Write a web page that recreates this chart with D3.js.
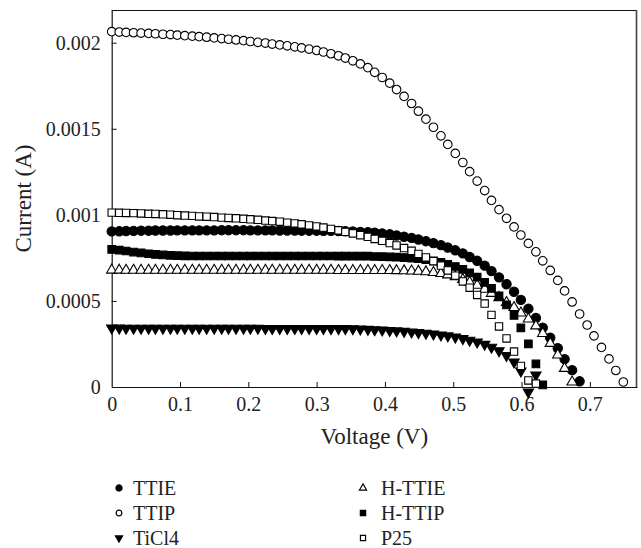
<!DOCTYPE html>
<html>
<head>
<meta charset="utf-8">
<script src="https://cdn.jsdelivr.net/npm/d3@7"></script>
<style>
  body { margin: 0; background: #fff; }
  text { font-family: "Liberation Serif", "DejaVu Serif", serif; fill: #222; }
</style>
</head>
<body>
<script>
// sweep voltages (V), shared by all cells
var voltage = [0.000, 0.011, 0.021, 0.032, 0.043, 0.054, 0.064, 0.075, 0.086, 0.096,
    0.107, 0.118, 0.128, 0.139, 0.150, 0.161, 0.171, 0.182, 0.193, 0.203,
    0.214, 0.225, 0.235, 0.246, 0.257, 0.268, 0.278, 0.289, 0.300, 0.310,
    0.321, 0.332, 0.342, 0.353, 0.364, 0.375, 0.385, 0.396, 0.407, 0.417,
    0.428, 0.439, 0.449, 0.460, 0.471, 0.482, 0.492, 0.503, 0.514, 0.524,
    0.535, 0.546, 0.556, 0.567, 0.578, 0.589, 0.599, 0.610, 0.621, 0.631,
    0.642, 0.653, 0.663, 0.674, 0.685, 0.696, 0.706, 0.717, 0.728, 0.738, 0.749];

// currents (A)
var ttie = [0.000904, 0.000905, 0.000906, 0.000907, 0.000908, 0.000908, 0.000909, 0.000909, 0.000909, 0.000910,
    0.000910, 0.000910, 0.000910, 0.000910, 0.000910, 0.000911, 0.000911, 0.000911, 0.000911, 0.000910,
    0.000910, 0.000910, 0.000910, 0.000909, 0.000909, 0.000909, 0.000908, 0.000908, 0.000908, 0.000907,
    0.000907, 0.000906, 0.000905, 0.000903, 0.000901, 0.000899, 0.000897, 0.000892, 0.000887, 0.000880,
    0.000873, 0.000866, 0.000857, 0.000847, 0.000836, 0.000824, 0.000810, 0.000794, 0.000776, 0.000755,
    0.000733, 0.000705, 0.000673, 0.000637, 0.000597, 0.000553, 0.000506, 0.000455, 0.000401, 0.000344,
    0.000286, 0.000225, 0.000162, 0.000098, 0.000033];

var ttip = [0.002064, 0.002062, 0.002060, 0.002058, 0.002056, 0.002054, 0.002052, 0.002049, 0.002047, 0.002044,
    0.002041, 0.002038, 0.002035, 0.002032, 0.002028, 0.002024, 0.002020, 0.002016, 0.002012, 0.002007,
    0.002002, 0.001998, 0.001992, 0.001987, 0.001982, 0.001976, 0.001970, 0.001963, 0.001955, 0.001946,
    0.001936, 0.001924, 0.001911, 0.001895, 0.001877, 0.001855, 0.001828, 0.001798, 0.001765, 0.001728,
    0.001688, 0.001647, 0.001602, 0.001556, 0.001509, 0.001459, 0.001409, 0.001357, 0.001304, 0.001251,
    0.001196, 0.001141, 0.001084, 0.001030, 0.000980, 0.000930, 0.000883, 0.000834, 0.000785, 0.000733,
    0.000677, 0.000619, 0.000558, 0.000494, 0.000424, 0.000360, 0.000297, 0.000230, 0.000163, 0.000096, 0.000029];

var ticl4 = [0.000343, 0.000342, 0.000341, 0.000341, 0.000341, 0.000341, 0.000341, 0.000341, 0.000341, 0.000341,
    0.000341, 0.000341, 0.000341, 0.000341, 0.000341, 0.000341, 0.000341, 0.000341, 0.000341, 0.000341,
    0.000341, 0.000340, 0.000340, 0.000340, 0.000340, 0.000340, 0.000340, 0.000340, 0.000340, 0.000340,
    0.000339, 0.000339, 0.000339, 0.000338, 0.000337, 0.000335, 0.000333, 0.000331, 0.000328, 0.000326,
    0.000323, 0.000320, 0.000316, 0.000312, 0.000308, 0.000302, 0.000297, 0.000290, 0.000281, 0.000272,
    0.000261, 0.000248, 0.000231, 0.000210, 0.000183, 0.000145, 0.000093, -0.000029, 0.000070];

var httie = [0.000679, 0.000679, 0.000678, 0.000678, 0.000678, 0.000678, 0.000678, 0.000678, 0.000678, 0.000678,
    0.000678, 0.000678, 0.000678, 0.000678, 0.000678, 0.000678, 0.000678, 0.000678, 0.000678, 0.000678,
    0.000678, 0.000678, 0.000678, 0.000678, 0.000678, 0.000678, 0.000678, 0.000678, 0.000678, 0.000678,
    0.000678, 0.000677, 0.000677, 0.000677, 0.000677, 0.000677, 0.000677, 0.000677, 0.000677, 0.000676,
    0.000675, 0.000674, 0.000672, 0.000669, 0.000665, 0.000659, 0.000651, 0.000641, 0.000625, 0.000609,
    0.000591, 0.000568, 0.000544, 0.000519, 0.000491, 0.000462, 0.000430, 0.000395, 0.000355, 0.000311,
    0.000253, 0.000186, 0.000108, 0.000029];

var httip = [0.000799, 0.000795, 0.000790, 0.000784, 0.000779, 0.000774, 0.000770, 0.000767, 0.000765, 0.000763,
    0.000762, 0.000761, 0.000761, 0.000761, 0.000761, 0.000761, 0.000761, 0.000761, 0.000761, 0.000761,
    0.000761, 0.000761, 0.000761, 0.000761, 0.000761, 0.000761, 0.000761, 0.000761, 0.000761, 0.000761,
    0.000761, 0.000760, 0.000760, 0.000760, 0.000760, 0.000760, 0.000758, 0.000757, 0.000756, 0.000754,
    0.000752, 0.000749, 0.000745, 0.000740, 0.000733, 0.000724, 0.000713, 0.000700, 0.000683, 0.000663,
    0.000638, 0.000608, 0.000573, 0.000529, 0.000477, 0.000416, 0.000343, 0.000250, 0.000134, 0.000012];

var p25 = [0.001013, 0.001012, 0.001011, 0.001010, 0.001008, 0.001006, 0.001005, 0.001003, 0.001001, 0.000998,
    0.000996, 0.000994, 0.000991, 0.000989, 0.000987, 0.000984, 0.000982, 0.000980, 0.000977, 0.000974,
    0.000971, 0.000967, 0.000964, 0.000960, 0.000955, 0.000950, 0.000945, 0.000939, 0.000933, 0.000926,
    0.000918, 0.000910, 0.000901, 0.000892, 0.000882, 0.000872, 0.000860, 0.000849, 0.000836, 0.000822,
    0.000807, 0.000791, 0.000773, 0.000753, 0.000731, 0.000705, 0.000677, 0.000647, 0.000613, 0.000577,
    0.000535, 0.000485, 0.000419, 0.000352, 0.000282, 0.000206, 0.000122, 0.000038, 0.000020];

var seriesNames = ["TTIE", "TTIP", "TiCl4", "H-TTIE", "H-TTIP", "P25"];
var seriesValues = [ttie, ttip, ticl4, httie, httip, p25];

var xTicks = [0, 0.1, 0.2, 0.3, 0.4, 0.5, 0.6, 0.7];
var xTickLabels = ["0", "0.1", "0.2", "0.3", "0.4", "0.5", "0.6", "0.7"];
var yTicks = [0, 0.0005, 0.001, 0.0015, 0.002];
var yTickLabels = ["0", "0.0005", "0.001", "0.0015", "0.002"];

var width = 641, height = 548;
var plotL = 111.7, plotR = 637, plotT = 10, plotB = 387;

// marker look per series, same order as seriesNames
var markers = [
    { type: d3.symbolCircle,   size: 68, leg: 30, fill: "#000", rot: 0 },
    { type: d3.symbolCircle,   size: 58, leg: 26, fill: "#fff", rot: 0 },
    { type: d3.symbolTriangle, size: 46, leg: 22, fill: "#000", rot: 180 },
    { type: d3.symbolTriangle, size: 46, leg: 22, fill: "#fff", rot: 0 },
    { type: d3.symbolSquare,   size: 58, leg: 28, fill: "#000", rot: 0 },
    { type: d3.symbolSquare,   size: 54, leg: 26, fill: "#fff", rot: 0 }
];

var x = d3.scaleLinear().domain([0, 0.769]).range([plotL, plotR]);
var y = d3.scaleLinear().domain([0, 0.00219]).range([plotB, plotT]);

var svg = d3.select("body").append("svg")
        .attr("width", width)
        .attr("height", height);

// frame
svg.append("line").attr("x1", plotL).attr("x2", plotR).attr("y1", plotT + 0.5).attr("y2", plotT + 0.5)
    .attr("stroke", "#111").attr("stroke-width", 1.2);
svg.append("line").attr("x1", plotR - 0.5).attr("x2", plotR - 0.5).attr("y1", plotT).attr("y2", plotB)
    .attr("stroke", "#444").attr("stroke-width", 1.6);

var xAxis = d3.axisBottom(x)
    .tickValues(xTicks)
    .tickFormat(function (d, i) { return xTickLabels[i]; })
    .tickSizeInner(-5).tickSizeOuter(0).tickPadding(10);

var yAxis = d3.axisLeft(y)
    .tickValues(yTicks)
    .tickFormat(function (d, i) { return yTickLabels[i]; })
    .tickSizeInner(-5).tickSizeOuter(0).tickPadding(11);

var gx = svg.append("g").attr("transform", "translate(0," + plotB + ")").call(xAxis);
var gy = svg.append("g").attr("transform", "translate(" + plotL + ",0)").call(yAxis);

[gx, gy].forEach(function (g) {
    g.select(".domain").attr("stroke", "#111").attr("stroke-width", 1.2);
    g.selectAll(".tick line").attr("stroke", "#111");
    g.selectAll(".tick text")
        .style("font-family", "'Liberation Serif', serif")
        .style("font-size", "20px")
        .attr("fill", "#222");
});
gy.selectAll(".tick").filter(function (d) { return d === 0; }).select("line").remove();
gx.selectAll(".tick").filter(function (d) { return d === 0; }).select("line").remove();

svg.append("text")
    .attr("transform", "translate(31," + ((plotT + plotB) / 2) + ") rotate(-90)")
    .attr("text-anchor", "middle")
    .style("font-size", "23px")
    .text("Current (A)");

svg.append("text")
    .attr("x", (plotL + plotR) / 2)
    .attr("y", 444)
    .attr("text-anchor", "middle")
    .style("font-size", "23px")
    .text("Voltage (V)");

// data points
seriesValues.forEach(function (vals, s) {
    var m = markers[s];
    var sym = d3.symbol().type(m.type).size(m.size);
    svg.append("g").selectAll("path")
        .data(vals)
        .enter().append("path")
            .attr("d", sym)
            .attr("transform", function (d, i) {
                return "translate(" + x(voltage[i]) + "," + y(d) + ") rotate(" + m.rot + ")";
            })
            .attr("fill", m.fill)
            .attr("stroke", "#000")
            .attr("stroke-width", 1.1);
});

// legend, two columns of three
var legendX = [119, 363];
var legendY = [488, 513, 538];
seriesNames.forEach(function (name, s) {
    var m = markers[s];
    var col = s < 3 ? 0 : 1;
    var row = s % 3;
    var g = svg.append("g")
        .attr("transform", "translate(" + legendX[col] + "," + legendY[row] + ")");
    g.append("path")
        .attr("d", d3.symbol().type(m.type).size(m.leg))
        .attr("transform", "rotate(" + m.rot + ")")
        .attr("fill", m.fill)
        .attr("stroke", "#000")
        .attr("stroke-width", 1.2);
    g.append("text")
        .attr("x", col === 0 ? 14 : 18)
        .attr("dy", "0.33em")
        .style("font-size", "20px")
        .text(name);
});
</script>
</body>
</html>
